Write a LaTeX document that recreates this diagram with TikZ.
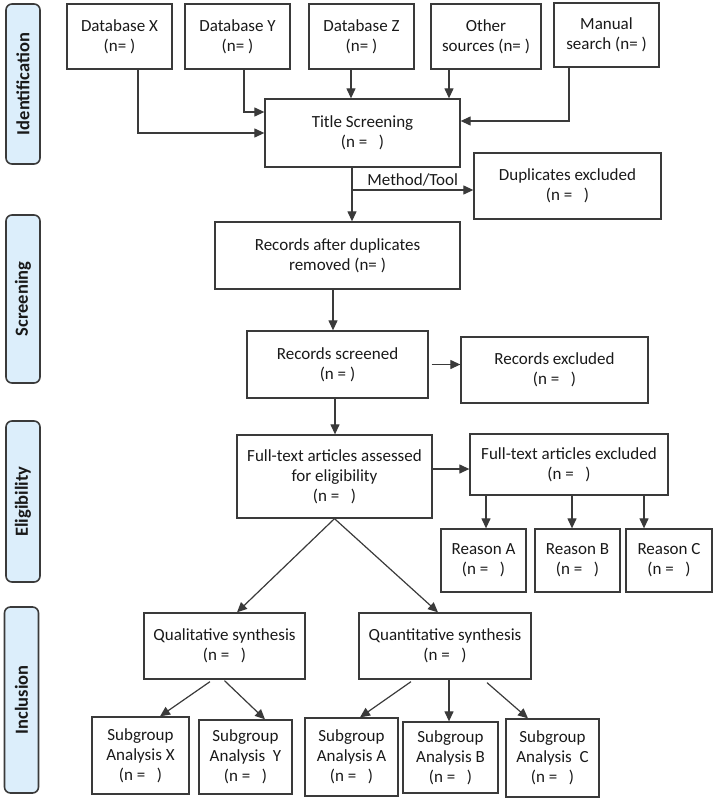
\documentclass[tikz,border=0pt]{standalone}
\usepackage{fontspec}
\setmainfont{Carlito}
\usetikzlibrary{arrows.meta}
\definecolor{phaseblue}{HTML}{DCEEFB}
\definecolor{edgegray}{HTML}{3A3A3A}
\begin{document}
\begin{tikzpicture}[x=1pt, y=-1pt,
    box/.style={draw=edgegray, line width=1.3pt, align=center, inner sep=2pt, font=\fontsize{17}{20}\selectfont, text=black!90},
    phase/.style={draw=edgegray, line width=1.6pt, fill=phaseblue, rounded corners=6pt, rotate=90, minimum height=34pt, font=\fontsize{18.5}{20}\selectfont\bfseries, text=black!90},
    >={Triangle[length=10pt, width=9pt]}]
  \useasboundingbox (0,0) rectangle (715,800);
  \node[phase, minimum width=160pt] (ident) at (23,84) {Identification};
  \node[phase, minimum width=168pt] (scrn) at (23,299) {Screening};
  \node[phase, minimum width=161pt] (elig) at (23,501.5) {Eligibility};
  \node[phase, minimum width=186pt] (incl) at (21.5,700) {Inclusion};
  \node[box, minimum width=105pt, minimum height=65pt] (dbx) at (119.5,36.5) {Database X\\(n= )};
  \node[box, minimum width=105pt, minimum height=65pt] (dby) at (237.5,36.5) {Database Y\\(n= )};
  \node[box, minimum width=105pt, minimum height=65pt] (dbz) at (361.5,36.5) {Database Z\\(n= )};
  \node[box, minimum width=110pt, minimum height=65pt] (oth) at (486,36.5) {Other\\sources (n= )};
  \node[box, minimum width=105pt, minimum height=64pt] (man) at (606.5,35) {Manual\\search (n= )};
  \node[box, minimum width=195pt, minimum height=68pt] (title) at (362.5,133) {Title Screening\\(n =~~~)};
  \node[box, minimum width=187pt, minimum height=66pt] (dup) at (567.5,186) {Duplicates excluded\\(n =~~~)};
  \node[box, minimum width=245pt, minimum height=67pt] (after) at (337.5,255.5) {Records after duplicates\\removed (n= )};
  \node[box, minimum width=181pt, minimum height=67pt] (scr) at (337.5,364.5) {Records screened\\(n = )};
  \node[box, minimum width=187pt, minimum height=66pt] (rex) at (554.5,370) {Records excluded\\(n =~~~)};
  \node[box, minimum width=195pt, minimum height=83pt] (fta) at (334.5,476.5) {Full-text articles assessed\\for eligibility\\(n =~~~)};
  \node[box, minimum width=198pt, minimum height=61pt] (fte) at (569,464.5) {Full-text articles excluded\\(n =~~~)};
  \node[box, minimum width=85pt, minimum height=63pt] (ra) at (483.5,560.5) {Reason A\\(n =~~~)};
  \node[box, minimum width=85pt, minimum height=63pt] (rb) at (577.5,560.5) {Reason B\\(n =~~~)};
  \node[box, minimum width=86pt, minimum height=63pt] (rc) at (669,560.5) {Reason C\\(n =~~~)};
  \node[box, minimum width=161pt, minimum height=66pt] (qual) at (224.5,646) {Qualitative synthesis\\(n =~~~)};
  \node[box, minimum width=172pt, minimum height=66pt] (quan) at (445,646) {Quantitative synthesis\\(n =~~~)};
  \node[box, minimum width=97pt, minimum height=77pt] (sx) at (140.5,755.5) {Subgroup\\Analysis X\\(n =~~~)};
  \node[box, minimum width=93pt, minimum height=74pt] (sy) at (245.5,757) {Subgroup\\Analysis~~Y\\(n =~~~)};
  \node[box, minimum width=93pt, minimum height=78pt] (sa) at (351.5,757) {Subgroup\\Analysis A\\(n =~~~)};
  \node[box, minimum width=95pt, minimum height=71pt] (sb) at (450.5,757.5) {Subgroup\\Analysis B\\(n =~~~)};
  \node[box, minimum width=93pt, minimum height=78pt] (sc) at (552.5,758) {Subgroup\\Analysis~~C\\(n =~~~)};
  \coordinate (br) at ([xshift=-10.5pt]title.south |- dup.west);
  \begin{scope}[draw=edgegray, line width=1.2pt]
    \draw[->] ([xshift=18.5pt]dbx.south) |- (title.west);
    \draw[->] ([xshift=6.5pt]dby.south) |- ([yshift=21pt]title.west);
    \draw[->] ([xshift=-10.5pt]dbz.south) -- ([xshift=-10.5pt]dbz.south |- title.north);
    \draw[->] ([xshift=-37pt]oth.south) -- ([xshift=-37pt]oth.south |- title.north);
    \draw[->] ([xshift=-37.5pt]man.south) |- ([yshift=12pt]title.east);
    \draw[->] ([xshift=-10.5pt]title.south) -- ([xshift=-10.5pt]title.south |- after.north);
    \draw[->] ([yshift=-4pt]br) -- ([yshift=-4pt]br -| dup.west) node[midway, above, font=\fontsize{17}{20}\selectfont, text=black!90] {Method/Tool};
    \draw[->] ([xshift=3pt]scr.east) -- (scr.east -| rex.west);
    \draw[->] ([xshift=-4.5pt]after.south) -- ([xshift=-4.5pt]after.south |- scr.north);
    \draw[->] ([xshift=-2.5pt]scr.south) -- ([xshift=-2.5pt]scr.south |- fta.north);
    \draw[->] ([yshift=7.5pt]fta.east) -- ([yshift=7.5pt]fta.east -| fte.west);
    \draw[->] ([xshift=2.5pt]ra.north |- fte.south) -- ([xshift=2.5pt]ra.north);
    \draw[->] ([xshift=-5.5pt]rb.north |- fte.south) -- ([xshift=-5.5pt]rb.north);
    \draw[->] ([xshift=-25pt]rc.north |- fte.south) -- ([xshift=-25pt]rc.north);
    \draw[->] (fta.south) -- ([xshift=12.5pt]qual.north);
    \draw[->] (fta.south) -- ([xshift=-7pt]quan.north);
    \draw[->] ([xshift=-14.5pt, yshift=-2pt]qual.south) -- ([xshift=19.5pt]sx.north);
    \draw[->] ([yshift=-1pt]qual.south) -- ([xshift=19.5pt]sy.north);
    \draw[->] ([xshift=-34pt, yshift=-2pt]quan.south) -- ([xshift=8.5pt]sa.north);
    \draw[->] ([xshift=4pt]quan.south) -- ([xshift=4pt]quan.south |- sb.north);
    \draw[->] ([xshift=42pt, yshift=-3pt]quan.south) -- ([xshift=-24.5pt]sc.north);
  \end{scope}
\end{tikzpicture}
\end{document}
